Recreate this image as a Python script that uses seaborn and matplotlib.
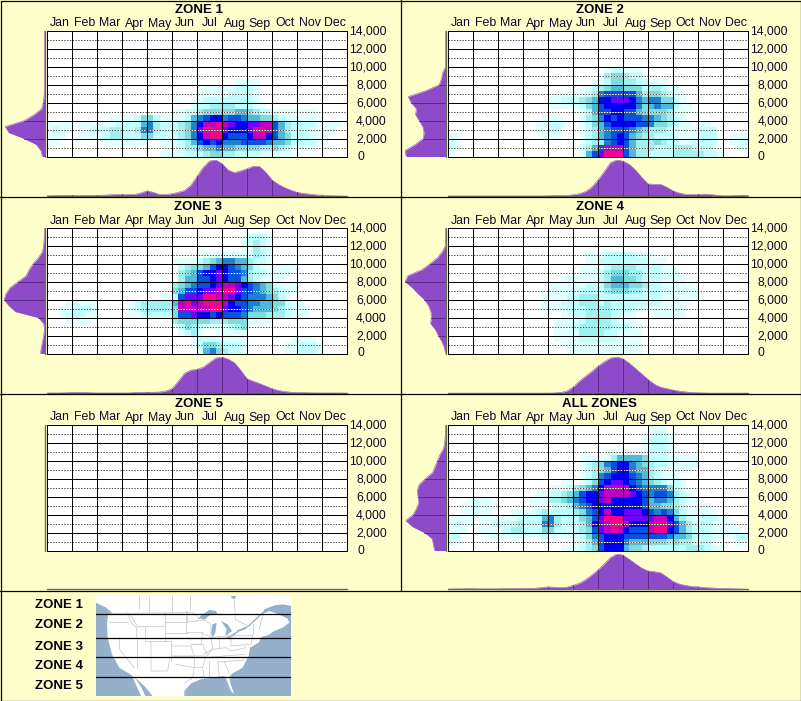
import numpy as np
import matplotlib
matplotlib.use("Agg")
import matplotlib.pyplot as plt
from matplotlib.colors import ListedColormap
import seaborn as sns

MONTHS = ["Jan","Feb","Mar","Apr","May","Jun","Jul","Aug","Sep","Oct","Nov","Dec"]
ALT_LABELS = ["14,000","12,000","10,000","8,000","6,000","4,000","2,000","0"]
ALT_VALUES = [14000,12000,10000,8000,6000,4000,2000,0]
ZONE_TITLES = ["ZONE 1","ZONE 2","ZONE 3","ZONE 4","ZONE 5","ALL ZONES"]
LEVEL_COLORS = ["#FFFFFF","#E0FFFF","#C0FFFF","#A0F0F0","#80DCDC","#50B8D8",
                "#2080D0","#0850E0","#0000F0","#7000FF","#C000C0","#F8008C"]
E = "0000 0000 0000 0000 0000 0000 0000 0000 0000 0000 0000 0000"

ZONE1 = [E,E,E,E,E,E,E,E,
"0000 0000 0000 0000 0000 0000 0000 0011 1100 0000 0000 0000",
"0000 0000 0000 0000 0000 0000 0111 1122 2100 0000 0000 0000",
"0000 0000 0000 0000 0000 0000 1111 1222 2100 0000 0000 0000",
"0000 0000 0000 0000 0000 0001 1222 2222 2100 0000 0000 0000",
"0000 0000 0000 0000 0000 0001 2233 3322 2110 0000 0000 0000",
"0000 0000 0000 0000 0000 1122 3444 4455 4322 1111 1110 0000",
"0000 0000 0011 1124 4211 1125 6788 6776 5544 3211 1111 0000",
"1111 0111 1112 2225 6322 2346 8aab a988 99aa 7532 2221 1110",
"1211 0112 2233 2236 6322 2346 9bbb 9888 9bba 7532 2211 1100",
"1110 0111 1233 2224 4221 2346 8abb 8777 8aa8 7542 2211 1000",
"1100 0000 0111 1111 0011 1235 7878 6667 7776 5542 2221 1000",
"0000 0000 0000 0000 0001 1233 4556 5544 4433 4321 1110 0000",
"0000 0000 0000 0000 0011 1122 2344 3322 2211 1110 0000 0000"]

ZONE2 = [E,E,E,E,E,E,
"0000 0000 0000 0000 0000 0000 0122 1110 0000 0000 0000 0000",
"0000 0000 0000 0000 0000 0000 1344 3221 0000 0000 0000 0000",
"0000 0000 0000 0000 0000 0001 1244 3322 1110 0000 0000 0000",
"0000 0000 0000 0000 0000 0112 3455 4442 3321 1000 0000 0000",
"0000 0000 0000 0000 0111 1123 6777 7753 4432 1100 0000 0000",
"0000 0000 0000 0000 1122 2345 8899 9865 6644 2100 0000 0000",
"0000 0000 0000 0000 1111 1245 7888 8864 5655 2110 0000 0000",
"0000 0000 0000 0000 0000 0125 7788 7754 4443 1100 0000 0000",
"0000 0000 0000 0001 1100 0134 6878 7776 6543 2100 0000 0000",
"0000 0000 0000 0011 2210 0124 5788 8877 6443 2110 1100 0000",
"0000 0000 0000 0011 2200 0123 5677 7654 3332 1111 2220 0000",
"1100 0000 0000 0001 1100 0123 5678 7543 3222 1111 2220 0111",
"2100 0000 0000 0000 0000 0123 3678 7533 3432 2112 2220 0112",
"2100 0000 0000 0000 0000 0235 7aaa 7533 3222 3332 2210 0011",
"1000 0000 0000 0000 0000 0157 9bbb 7533 2222 3333 3221 0000"]

ZONE3 = [E,
"0000 0000 0000 0000 0000 0000 0000 0001 2221 0000 0000 0000",
"0000 0000 0000 0000 0000 0000 0000 0001 2321 0000 0000 0000",
"0000 0000 0000 0000 0000 0000 0000 0001 1321 0000 0000 0000",
"0000 0000 0000 0000 0000 0000 0111 1111 1321 0000 0000 0000",
"0000 0000 0000 0000 0000 1111 2345 6655 3221 0000 0000 0000",
"0000 0000 0000 0000 0000 0234 4578 8765 4211 1111 0000 0000",
"0000 0000 0000 0000 0000 0345 7889 8776 3221 1110 0000 0000",
"0000 0000 0000 0000 0000 0355 7789 8775 3211 1100 0000 0000",
"0000 0000 0000 0000 0000 3456 7789 aa98 7654 2111 0000 0000",
"0000 0000 0000 0000 0000 4577 899a bb97 7654 3211 0000 0000",
"0000 0000 0000 0000 0011 2799 9bba a987 6665 4210 0000 0000",
"0001 2111 0000 0123 3333 5ab9 abbb a877 6655 4421 1000 0000",
"0011 2221 0000 0123 3333 4aaa aabb 9887 6555 4321 1100 0000",
"0012 2211 0000 0112 2222 4779 8878 7776 4443 3321 1100 0000",
"0001 1110 0000 0000 0000 3444 4433 3444 1111 0000 0000 0000",
"0000 0000 0000 0000 0000 0243 2111 1234 0000 0000 0000 0000",
"0000 0000 0000 0000 0000 0123 1001 1111 0000 0000 0000 0000",
"0000 0000 0000 0000 0000 0001 2221 1111 0000 0001 1110 0000",
"0000 0000 0000 0000 0000 0001 2443 2221 0000 0011 2221 0000",
"0000 0000 0000 0000 0000 0000 1564 3221 0000 0011 2221 0000"]

ZONE4 = [E,E,E,E,
"0000 0000 0000 0000 0000 0011 1222 2211 1000 0000 0000 0000",
"0000 0000 0000 0000 0000 0011 2222 2222 1110 0000 0000 0000",
"0000 0000 0000 0000 0000 0111 1233 3322 2211 0000 0000 0000",
"0000 0000 0000 0000 0000 0111 2344 4332 2211 1000 0000 0000",
"0000 0000 0000 0000 0011 1111 2355 4432 2211 1100 0000 0000",
"0000 0000 0000 0000 1111 1122 2455 5443 2211 1110 0000 0000",
"0000 0000 0000 0000 1111 1222 2344 4332 2211 1111 0000 0000",
"0000 0000 0000 0001 1112 2333 2222 2222 2211 1111 0000 0000",
"0000 0000 0000 0001 1122 2333 2322 2222 2211 1110 0000 0000",
"0000 0000 0000 0001 1112 2233 3322 2211 1111 1100 0000 0000",
"0000 0000 0000 0000 0011 2233 3321 1100 0111 1100 0000 0000",
"0000 0000 0000 0000 0111 1233 3321 1100 0000 0000 0000 0000",
"0000 0000 0000 0000 0111 2333 3322 2110 0000 0000 0000 0000",
"0000 0000 0000 0000 0111 1333 3221 1110 0000 0000 0000 0000",
"0000 0000 0000 0000 0111 1222 2221 1110 0000 0000 0000 0000",
"0000 0000 0000 0000 0011 1111 1111 1110 0000 0000 0000 0000",
"0000 0000 0000 0000 0001 1111 1111 1110 0000 0000 0000 0000"]

ZONE5 = [E] * 21

ALLZ = [
"0000 0000 0000 0000 0000 0000 0000 0000 1110 0000 0000 0000",
"0000 0000 0000 0000 0000 0000 0000 0001 1221 0000 0000 0000",
"0000 0000 0000 0000 0000 0000 0000 0001 2221 0000 0000 0000",
"0000 0000 0000 0000 0000 0000 0000 0001 2221 0000 0000 0000",
"0000 0000 0000 0000 0000 0000 0111 1111 2221 0000 0000 0000",
"0000 0000 0000 0000 0000 0111 1135 5554 2221 1111 0000 0000",
"0000 0000 0000 0000 0000 0123 4678 8654 3221 1111 0000 0000",
"0000 0000 0000 0000 0000 0123 4578 8655 3211 1110 0000 0000",
"0000 0000 0000 0000 0000 0123 6788 8765 3211 1000 0000 0000",
"0000 0000 0000 0000 0011 0124 7899 8765 4321 2100 0000 0000",
"0000 0000 0000 0000 1112 3456 8aaa a876 6664 2100 0000 0000",
"0000 0000 0000 0011 2234 5788 9aaa a987 6776 3210 0000 0000",
"0001 1110 0000 0111 3345 6788 9a88 8887 5665 3211 0000 0000",
"0011 2111 0000 0111 1223 5678 8888 8887 5544 3211 1100 0000",
"0011 1110 0011 1123 2222 3467 8a88 9998 7676 4211 1110 0000",
"1111 0111 1112 2225 6322 2457 9bbb 9999 9aa8 5321 2221 1000",
"1211 0112 2223 2226 6322 2358 9abb a888 abb9 7532 2211 1100",
"1110 0111 1233 2224 4221 2347 9aba 8777 abb8 7532 2211 1110",
"2200 0011 1111 1112 1111 1246 7888 7777 7776 5542 2211 0122",
"2100 0000 0000 0000 0000 1235 7888 6555 4443 4332 2210 0011",
"0000 0000 0000 0000 0011 1234 7888 5443 2222 2233 3211 0000"]

# side density, one value per row edge from 14,000 down to 0
SIDE1 = [0,0,0,0,0,0,0,0,0,0,.005,.01,.03,.07,.25,.5,.97,.88,.5,.2,.09,.05]
SIDE2 = [0,0,0,0,0,0,0,.07,.1,.15,.48,.92,.85,.72,.74,.65,.56,.53,.55,.75,1,.97]
SIDE3 = [0,0,.01,.02,.05,.15,.28,.38,.45,.65,.85,.95,1,.88,.72,.15,.02,0,.02,.05,.08,.1]
SIDE4 = [0,0,0,0,.08,.2,.38,.58,.93,1,.82,.68,.52,.42,.36,.35,.37,.25,.18,.09,.03,0]
SIDE5 = [0]*22
SIDEA = [0,0,.01,.02,.05,.14,.2,.26,.32,.5,.65,.7,.68,.66,.72,.8,.98,.82,.52,.33,.3,.27]

# bottom density, one value per quarter month
BOT1 = [.01,.015,.02,.025,.025,.02,.02,.02,.025,.03,.04,.05,.05,.05,.05,.09,.15,.11,.05,.05,.07,.11,.16,.3,.55,.8,.97,1,.9,.72,.65,.7,.76,.83,.82,.66,.45,.33,.24,.17,.11,.08,.06,.04,.03,.015,.01,.005,0]
BOT2 = [.005]*16 + [.01,.015,.02,.025,.04,.07,.13,.25,.45,.68,.93,1,.97,.88,.72,.52,.34,.33,.33,.25,.15,.09,.05,.05,.05,.06,.05,.03,.01,.01,.02,.03,.03]
BOT3 = [.005,.005,.005,.01,.02,.025,.02,.01,.005,.005,.005,.005,.005,.005,.015,.025,.03,.03,.035,.06,.13,.33,.55,.64,.66,.72,.85,.97,1,.94,.84,.63,.4,.33,.27,.2,.13,.08,.05,.03,.02,.015,.01,.005,.005,.005,.005,.005,0]
BOT4 = [0]*17 + [.005,.02,.06,.17,.33,.47,.6,.75,.87,.97,1,.95,.83,.68,.53,.38,.25,.17,.13,.09,.06,.04,.02,.01,.005,0,0,0,0,0,0,0]
BOT5 = [0]*49
BOTA = [.005,.01,.01,.015,.015,.01,.01,.01,.01,.015,.02,.02,.02,.03,.03,.05,.07,.06,.05,.06,.11,.17,.27,.4,.55,.72,.9,1,.97,.85,.72,.6,.52,.5,.47,.35,.22,.15,.11,.08,.07,.05,.04,.03,.02,.015,.01,.005,0]

MAP_LABELS = ["ZONE 1","ZONE 2","ZONE 3","ZONE 4","ZONE 5"]
MAP_LABEL_Y = [605,625,647,666,686]
MAP_ZONE_LINES = [53,125,182,242]
MAP_LAND = [(0,0),(405,0),(408,8),(418,8),(420,0),(588,0),(588,30),(560,25),(535,28),(505,40),(497,55),(520,45),(548,55),(575,68),(580,80),(560,95),(535,105),(515,118),(498,122),(488,140),(462,155),(458,180),(450,195),(440,215),(410,232),(400,242),(403,262),(415,295),(405,285),(393,255),(385,240),(345,245),(315,250),(285,262),(265,285),(265,300),(170,300),(145,270),(120,248),(113,240),(135,272),(148,300),(135,300),(118,262),(108,238),(70,215),(48,175),(35,125),(33,85),(36,55),(50,52),(30,35),(0,20)]
MAP_LAKES = [
 [(305,68),(320,55),(340,42),(360,45),(365,55),(340,58),(325,72),(315,68)],
 [(350,85),(362,80),(358,110),(350,125),(345,110)],
 [(375,75),(395,85),(408,105),(388,120),(392,100)],
 [(390,125),(420,108),(430,105),(415,118),(395,130)],
 [(420,105),(450,92),(460,88),(448,100),(425,108)],
 [(455,90),(478,68),(500,48),(503,50),(480,72),(458,92)]]
MAP_STATE_LINES = [
 [(50,52),(290,50),(305,62)],[(38,78),(95,78)],[(95,50),(105,80),(122,95),(122,125)],
 [(105,60),(125,92),(208,92),(208,50)],[(148,92),(148,135),(225,135)],[(208,92),(208,135)],
 [(208,78),(272,78),(272,45)],[(208,112),(275,112)],[(38,125),(122,125)],[(70,125),(70,160),(115,215)],
 [(122,125),(122,215)],[(165,135),(165,225),(215,225),(220,195)],[(122,182),(225,182)],[(225,135),(225,195)],
 [(225,150),(285,150),(295,180),(225,180)],[(225,182),(295,182),(295,215),(240,205)],[(295,215),(290,245),(265,262)],
 [(272,45),(272,110),(320,110),(315,145),(285,145)],[(272,78),(305,75)],[(285,145),(320,145),(335,178)],
 [(295,180),(330,180),(320,215),(298,215)],[(320,215),(325,248)],[(340,195),(340,245)],[(365,198),(370,240)],
 [(385,195),(400,235)],[(325,185),(445,175)],[(320,175),(350,160),(390,155),(405,165)],[(320,112),(345,125),(350,155),(335,178)],
 [(345,125),(370,122),(370,155)],[(370,122),(405,120),(405,150)],[(400,120),(470,118),(465,145),(405,150)],[(405,165),(450,155)],
 [(305,75),(325,72),(345,85),(345,125)],[(470,85),(470,115)],[(500,58),(490,100)],[(365,198),(445,192)],[(130,40),(130,0)],[(158,0),(158,50)],[(228,0),(228,50)],[(282,0),(282,42)],[(415,10),(418,70),(455,90)]]

ZONES = [ZONE1,ZONE2,ZONE3,ZONE4,ZONE5,ALLZ]
SIDES = [SIDE1,SIDE2,SIDE3,SIDE4,SIDE5,SIDEA]
BOTS = [BOT1,BOT2,BOT3,BOT4,BOT5,BOTA]

sns.set_theme(style="white")
plt.rcParams["font.family"] = ["Liberation Sans", "DejaVu Sans"]
BG = "#FFFFCC"; PURPLE = "#8E4BC9"; DARKP = "#5A2D85"; TXT = "#10082A"; AXC = "#6E6E50"
W, H = 801, 701
fig = plt.figure(figsize=(W/100, H/100), dpi=100, facecolor=BG)

def pax(x0, y0, x1, y1, **kw):
    return fig.add_axes([x0/W, 1-y1/H, (x1-x0)/W, (y1-y0)/H], **kw)

cmap = ListedColormap(LEVEL_COLORS)
PANEL_X = [0,401,0,401,0,401]
PANEL_Y = [0,0,197,197,393,393]
ALT_EDGES = np.linspace(14000, 0, 22)
MONTH_EDGES = np.arange(0, 12.01, .25)

for i in range(6):
    px, py = PANEL_X[i], PANEL_Y[i]
    extra = 1 if i >= 4 else 0
    top = py + 30.7 + extra; bot = py + 156.5 + extra
    lft = px + 47; rgt = px + 347
    grid = np.array([[int(c, 16) for c in r.replace(" ", "")] for r in ZONES[i]])
    ax = pax(lft, top, rgt, bot)
    sns.heatmap(grid, cmap=cmap, vmin=-.5, vmax=11.5, cbar=False, ax=ax,
                xticklabels=False, yticklabels=False, linewidths=0, rasterized=True)
    ax.tick_params(length=0)
    to_row = lambda a: (14000 - np.asarray(a)) / 14000 * 21
    for m in range(13):
        ax.axvline(m*4, color="black", lw=.72, zorder=4)
    for a in range(0, 14001, 2000):
        ax.axhline(to_row(a), color="black", lw=.72, zorder=4)
    for a in range(1000, 14000, 2000):
        ax.axhline(to_row(a), color="white", lw=.72, zorder=3)
        ax.axhline(to_row(a), color="#505050", lw=.72, ls=(0, (1.4, 1.4)), zorder=3)
    ax.set_xlim(0, 48); ax.set_ylim(21, 0)
    ax.set_xlabel(""); ax.set_ylabel("")
    for s in ax.spines.values():
        s.set_visible(True); s.set_color("black"); s.set_linewidth(.72)

    for m, lab in enumerate(MONTHS):
        fig.text((lft + 12.5 + 25*m)/W, 1-(py+23.5+extra)/H, lab, ha="center", va="center",
                 fontsize=8.9, color=TXT)
    fig.text((px + 198.5)/W, 1-(py+10+extra)/H, ZONE_TITLES[i], ha="center", va="center",
             fontsize=9.5, fontweight="bold", color="#000010")
    for a, lab in zip(ALT_VALUES, ALT_LABELS):
        yy = top + (14000-a)/14000*(bot-top) + 1
        if a == 0:
            fig.text((px+357)/W, 1-(yy-1)/H, lab, ha="left", va="center", fontsize=8.8, color=TXT)
        else:
            fig.text((px+387)/W, 1-yy/H, lab, ha="right", va="center", fontsize=8.8, color=TXT)

    sa = pax(px+4, top, px+44.5, bot)
    side = np.array(SIDES[i], float)
    sa.fill_betweenx(ALT_EDGES, 0, side, color=PURPLE, lw=0)
    sns.lineplot(x=side, y=ALT_EDGES, orient="y", sort=False, color=PURPLE, lw=.4, ax=sa, legend=False, estimator=None)
    for a in range(2000, 14000, 2000):
        sa.plot([0, np.interp(a, ALT_EDGES[::-1], side[::-1])], [a, a], color=DARKP, lw=.7)
    sa.set_xlim(1.0, 0); sa.set_ylim(0, 14000); sa.axis("off")
    sa.plot([0, 0], [0, 14000], color=AXC, lw=1.0, clip_on=False)

    ba = pax(lft, py+160+extra, rgt, py+196.3)
    botv = np.array(BOTS[i], float)
    ba.fill_between(MONTH_EDGES, 0, botv, color=PURPLE, lw=0)
    sns.lineplot(x=MONTH_EDGES, y=botv, color=PURPLE, lw=.4, ax=ba, legend=False, estimator=None)
    for m in range(1, 12):
        ba.plot([m, m], [0, np.interp(m, MONTH_EDGES, botv)], color=DARKP, lw=.7)
    ba.set_xlim(0, 12); ba.set_ylim(0, 1.0); ba.axis("off")
    ba.plot([0, 12], [0, 0], color=AXC, lw=1.0, clip_on=False)

fr = pax(0, 0, W, H)
fr.set_xlim(0, W); fr.set_ylim(H, 0); fr.axis("off"); fr.patch.set_alpha(0)
for y in [197, 393.5, 590.5]:
    fr.plot([0, W], [y, y], color="black", lw=.9)
fr.plot([400.5, 400.5], [0, 590.5], color="black", lw=.9)
fr.plot([.5, W-.5, W-.5, .5, .5], [.5, .5, H-.5, H-.5, .5], color="black", lw=.9)

for lab, y in zip(MAP_LABELS, MAP_LABEL_Y):
    fig.text(83/W, 1-y/H, lab, ha="right", va="center", fontsize=9.5, fontweight="bold", color="#000010")

ma = pax(96, 596, 291.3, 696)
ma.set_facecolor("#96AFCB")
ma.fill(*zip(*MAP_LAND), color="white", lw=0)
for lake in MAP_LAKES:
    ma.fill(*zip(*lake), color="#96AFCB", lw=0)
for ln in MAP_STATE_LINES:
    ma.plot(*zip(*ln), color="#CCCCCC", lw=.6)
for y in MAP_ZONE_LINES:
    ma.axhline(y, color="black", lw=.9)
ma.set_xlim(0, 586); ma.set_ylim(300, 0)
ma.set_xticks([]); ma.set_yticks([])
for s in ma.spines.values():
    s.set_visible(False)

fig.savefig("out.png", dpi=100, facecolor=BG)
